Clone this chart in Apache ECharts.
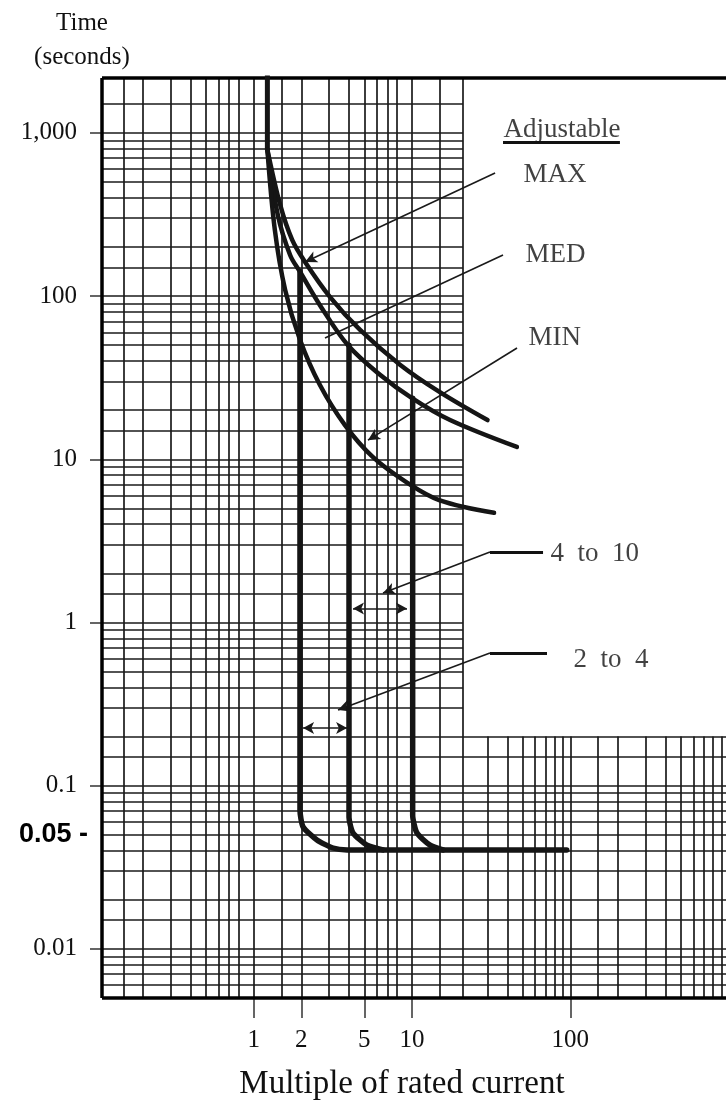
<!DOCTYPE html>
<html><head><meta charset="utf-8">
<script src="https://cdn.jsdelivr.net/npm/echarts@6/dist/echarts.min.js"></script>
<style>html,body{margin:0;padding:0;background:#fff}#c{width:726px;height:1103px}</style>
</head><body><div id="c"></div>
<script>
// ---- axis extents & tick labels ----
const xMin = 0.11, xMax = 964;
const tMin = 0.005, tMax = 2170;
const xSplit = 21, tSplit = 0.2;
const xTickValues = [1, 2, 5, 10, 100];
const yTickValues = [0.01, 0.1, 1, 10, 100, 1000];
const yExtraLabel = 0.05;

// ---- log-paper grid line positions ----
const gridXUpper = [0.15,0.2,0.3,0.4,0.5,0.6,0.7,0.8,1,1.5,2,3,4,5,6,7,8,10,15,21];
const gridXLower = [30,40,50,60,70,80,90,100,150,200,300,400,500,600,700,800,900];
const gridTUpper = [0.3,0.4,0.5,0.6,0.7,0.8,0.9,1,1.5,2,3,4,5,6,7,8,9,10,15,20,30,40,50,60,70,80,90,100,150,200,300,400,500,600,700,800,900,1000,1500];
const gridTLower = [0.006,0.007,0.008,0.009,0.01,0.015,0.02,0.03,0.04,0.05,0.06,0.07,0.08,0.09,0.1,0.15,0.2];

// ---- curves [multiple of rated current, seconds] ----
const thermalTrunk = [[1.22, 2300], [1.22, 790]];
const maxCurve = [[1.22,790],[1.47,362],[1.75,221],[2.11,162],[3.03,99],[4.7,62],[8.4,38],[15,25.8],[30,17.4]];
const medCurve = [[1.22,790],[1.42,314],[1.70,178],[1.96,141],[2.62,88],[3.94,50],[6.28,33],[10,23.7],[17.4,17.4],[46,11.9]];
const minCurve = [[1.22,790],[1.36,254],[1.58,109],[1.96,54],[2.62,28.5],[3.77,16.2],[5.67,10.3],[9.3,7.2],[15,5.6],[33,4.7]];
const instA = [[1.96,141],[1.96,0.071],[2.05,0.056],[2.51,0.0465],[3.17,0.0415],[3.89,0.0404],[95,0.0404]];
const instB = [[4.0,50],[4.0,0.064],[4.24,0.0513],[5.2,0.0432],[6.56,0.0404]];
const instC = [[10.1,23.7],[10.1,0.066],[10.75,0.0513],[13,0.0432],[15.7,0.0404]];

// ---- annotations ----
const labelTexts = ['Adjustable', 'MAX', 'MED', 'MIN', '4  to  10', '2  to  4'];
const labelAnchors = [[37.6,1042],[50.3,552],[51.8,178.5],[54.1,55.3],[74.5,2.62],[104,0.59]];
const arrowLeaders = [ // [from, to] with arrow at "to"
  [[33.5,568],[2.11,162]],
  [[46.1,48.1],[5.27,13.1]],
  [[31.1,2.70],[6.56,1.517]],
  [[31.1,0.65],[3.41,0.291]]
];
const plainLeaders = [[[37.6,178.5],[2.82,55.3]]];
const thickDashes = [[[31.1,2.70],[67.3,2.70]], [[31.1,0.65],[71.3,0.65]]];
const doubleArrows = [[[4.24,1.22],[9.3,1.22]], [[2.05,0.226],[3.89,0.226]]];
const underline = [[37.6,879],[206,879]];

const SERIF = "'Liberation Serif','Times New Roman',serif";
const SANS = "'Liberation Sans',Arial,sans-serif";
const INK = '#151515';
const TEXT = '#111';

function seg(a, b, extra) { return [Object.assign({coord: a}, extra && extra[0] || {}), Object.assign({coord: b}, extra && extra[1] || {})]; }

const gridSegs = [];
gridXUpper.forEach(x => gridSegs.push(seg([x, tMin], [x, tMax])));
gridXLower.forEach(x => gridSegs.push(seg([x, tMin], [x, tSplit])));
gridTUpper.forEach(t => gridSegs.push(seg([xMin, t], [xSplit, t])));
gridTLower.forEach(t => gridSegs.push(seg([xMin, t], [xMax, t])));

const borderSegs = [
  seg([xMin, tMax], [xMax, tMax]),
  seg([xMin, tMin], [xMin, tMax]),
  seg([xMin, tMin], [xMax, tMin])
];

const leaderSegs = [];
arrowLeaders.forEach(p => leaderSegs.push(seg(p[0], p[1], [{symbol:'none'}, {symbol:'arrow', symbolSize:[9,12]}])));
plainLeaders.forEach(p => leaderSegs.push(seg(p[0], p[1], [{symbol:'none'}, {symbol:'none'}])));
doubleArrows.forEach(p => leaderSegs.push(seg(p[0], p[1], [{symbol:'arrow', symbolSize:[9,11]}, {symbol:'arrow', symbolSize:[9,11]}])));
const thickSegs = thickDashes.map(p => seg(p[0], p[1]));
thickSegs.push(seg(underline[0], underline[1]));

function fmtNum(v) {
  const n = Number(Number(v).toPrecision(6));
  return n >= 1000 ? n.toLocaleString('en-US') : String(n);
}

function curveSeries(name, data, width) {
  return {
    name, type: 'line', data, smooth: 0.35, showSymbol: false, symbol: 'none',
    lineStyle: {color: INK, width: width, cap: 'round', join: 'round'},
    z: 5, silent: true
  };
}

const chart = echarts.init(document.getElementById('c'), null, {renderer: 'canvas'});
chart.setOption({
  animation: false,
  backgroundColor: '#fff',
  title: {
    text: 'Time\n(seconds)', left: 77, top: 1, textAlign: 'center',
    textStyle: {fontFamily: SERIF, fontSize: 25, fontWeight: 'normal', color: TEXT, lineHeight: 34}
  },
  grid: {left: 102, right: 0, top: 78, bottom: 105, outerBoundsMode: 'none', containLabel: false},
  xAxis: {
    type: 'log', logBase: 10, min: xMin, max: xMax,
    axisLine: {show: false},
    splitLine: {show: false},
    axisTick: {show: true, customValues: xTickValues, length: 20, lineStyle: {color: '#333', width: 1.5}},
    axisLabel: {customValues: xTickValues, margin: 30, fontFamily: SERIF, fontSize: 25, color: TEXT, formatter: v => fmtNum(v)},
    name: 'Multiple of rated current', nameLocation: 'middle', nameGap: 70,
    nameTextStyle: {fontFamily: SERIF, fontSize: 33, color: TEXT, padding: [0, 24, 0, 0]}
  },
  yAxis: {
    type: 'log', logBase: 10, min: tMin, max: tMax,
    axisLine: {show: false},
    splitLine: {show: false},
    axisTick: {show: true, customValues: yTickValues, length: 12, lineStyle: {color: '#333', width: 1.5}},
    axisLabel: {
      customValues: yTickValues.concat([yExtraLabel]), margin: 14,
      formatter: v => Math.abs(v - yExtraLabel) < 1e-9 ? '{b|' + fmtNum(v) + ' -}' : '{n|' + fmtNum(v) + '}',
      rich: {
        n: {fontFamily: SERIF, fontSize: 25, color: TEXT, padding: [0, 11, 0, 0]},
        b: {fontFamily: SANS, fontSize: 27, fontWeight: 'bold', color: '#000'}
      }
    }
  },
  series: [
    {
      name: 'grid', type: 'line', data: [], silent: true, z: 1,
      markLine: {silent: true, symbol: 'none', label: {show: false}, animation: false,
        lineStyle: {color: '#1a1a1a', width: 1.7, type: 'solid'}, data: gridSegs}
    },
    {
      name: 'border', type: 'line', data: [], silent: true, z: 2,
      markLine: {silent: true, symbol: 'none', label: {show: false}, animation: false,
        lineStyle: {color: '#000', width: 3.5, type: 'solid'}, data: borderSegs}
    },
    curveSeries('trunk', thermalTrunk, 5),
    curveSeries('MAX', maxCurve, 4.5),
    curveSeries('MED', medCurve, 4.5),
    curveSeries('MIN', minCurve, 4.5),
    Object.assign(curveSeries('inst 2', instA, 5.5), {smooth: 0.2}),
    Object.assign(curveSeries('inst 4', instB, 5.5), {smooth: 0.2}),
    Object.assign(curveSeries('inst 10', instC, 5.5), {smooth: 0.2}),
    {
      name: 'leaders', type: 'line', data: [], silent: true, z: 6,
      markLine: {silent: true, label: {show: false}, animation: false,
        lineStyle: {color: '#1a1a1a', width: 1.6, type: 'solid'}, data: leaderSegs}
    },
    {
      name: 'dashes', type: 'line', data: [], silent: true, z: 6,
      markLine: {silent: true, symbol: 'none', label: {show: false}, animation: false,
        lineStyle: {color: '#111', width: 3, type: 'solid'}, data: thickSegs}
    },
    {
      name: 'labels', type: 'scatter', silent: true, z: 7, symbolSize: 1,
      itemStyle: {color: 'rgba(0,0,0,0)'},
      data: labelAnchors.map((p, i) => ({value: p, name: labelTexts[i]})),
      label: {
        show: true, position: 'right', distance: 0, formatter: p => p.name,
        fontFamily: SERIF, fontSize: 27, color: TEXT
      }
    }
  ]
});
</script></body></html>
